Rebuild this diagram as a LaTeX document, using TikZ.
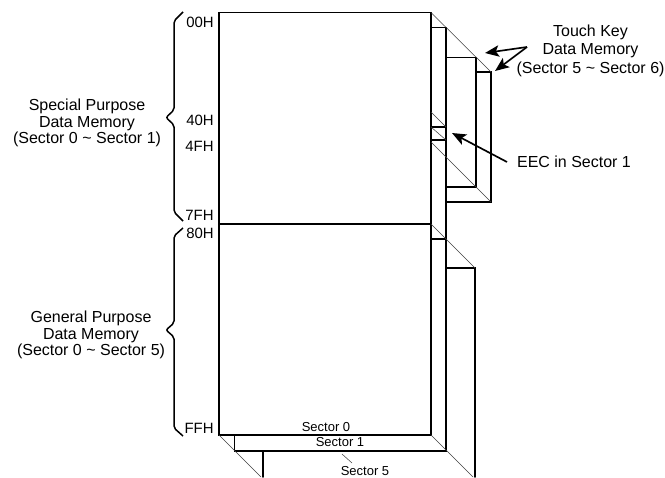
\documentclass[tikz,border=0pt]{standalone}
\usepackage{fontspec}
\setmainfont{Liberation Sans}
\usetikzlibrary{arrows.meta}

\begin{document}
\begin{tikzpicture}[
        x=0.02cm, y=-0.02cm,
        wall/.style={line width=0.85pt, line cap=round},
        diag/.style={line width=0.3pt, black!75},
        brc/.style={line width=0.85pt, rounded corners=1.2pt},
        arr/.style={-{Stealth[length=8pt, width=6.5pt, inset=1.8pt]}, line width=0.95pt},
        addr/.style={font=\fontsize{8.5}{9}\selectfont, anchor=east, inner sep=0pt},
        lbl/.style={font=\fontsize{9.1}{9.2}\selectfont, align=center, inner sep=0pt},
        sect/.style={font=\fontsize{7.4}{8}\selectfont, inner sep=0pt}
    ]
    \useasboundingbox (0,0) rectangle (665,477);

    % ---- SECTOR 0 ----
    \draw[wall] (219,12.5) rectangle (431,435);
    \draw[wall] (219,224) -- (431,224);

    % ---- SECTOR 1 ----
    \draw[wall] (431,27.5) -- (446,27.5) -- (446,451) -- (234.5,451) -- (234.5,435);
    \draw[wall] (431,127) -- (446,127);
    \draw[wall] (431,140) -- (446,140);
    \draw[wall] (431,239) -- (446,239);

    % ---- TOUCH KEY SECTORS ----
    \draw[wall] (446,57.5) -- (476,57.5) -- (476,187) -- (446,187);
    \draw[wall] (476,72) -- (491,72) -- (491,202) -- (446,202);

    % ---- SECTOR 5 ----
    \draw[wall] (446,268) -- (475,268) -- (475,477);
    \draw[wall] (263,451) -- (263,477);

    % ---- DEPTH LINES ----
    \draw[diag] (431,12.5) -- (491,72);
    \draw[diag] (431,112) -- (446,127);
    \draw[diag] (431,127) -- (446,140);
    \draw[diag] (431,142) -- (491,202);
    \draw[diag] (431,224) -- (475,268);
    \draw[diag] (431,435) -- (473,477);
    \draw[diag] (219,435) -- (261,477);
    \draw[diag] (342,454) -- (352,463);

    % ---- BRACES ----
    \draw[brc] (183,12) -- (174,21) -- (174,110) -- (166,117.5) -- (174,125) -- (174,212) -- (183,221);
    \draw[brc] (183,228) -- (174,236) -- (174,323) -- (166,330) -- (174,337) -- (174,428) -- (183,436);

    % ---- ADDRESSES ----
    \node[addr] (a00) at (214,22) {00H};
    \node[addr] (a40) at (214,120) {40H};
    \node[addr] (a4f) at (214,146) {4FH};
    \node[addr] (a7f) at (214,215) {7FH};
    \node[addr] (a80) at (214,233) {80H};
    \node[addr] (aff) at (214,428) {FFH};

    % ---- LABELS ----
    \node[lbl] (special) at (87,123) {Special Purpose\\Data Memory\\(Sector 0 \textasciitilde{} Sector 1)};
    \node[lbl] (general) at (91,335) {General Purpose\\Data Memory\\(Sector 0 \textasciitilde{} Sector 5)};
    \node[lbl, font=\fontsize{9.1}{10.5}\selectfont] (touch) at (590.5,50.5) {Touch Key\\Data Memory\\(Sector 5 \textasciitilde{} Sector 6)};
    \node[lbl] (eec) at (574,162) {EEC in Sector 1};
    \node[sect] (s0) at (326,427) {Sector 0};
    \node[sect] (s1) at (340,442) {Sector 1};
    \node[sect] (s5) at (365,471) {Sector 5};

    % ---- ARROWS ----
    \coordinate (fork) at (527,47);
    \coordinate (tip5) at (485,53);
    \coordinate (tip6) at (495,71);
    \coordinate (eectail) at (507,162);
    \coordinate (eectip) at (452,133);
    \draw[arr] (fork) -- (tip5);
    \draw[arr] (fork) -- (tip6);
    \draw[arr] (eectail) -- (eectip);

\end{tikzpicture}
\end{document}
